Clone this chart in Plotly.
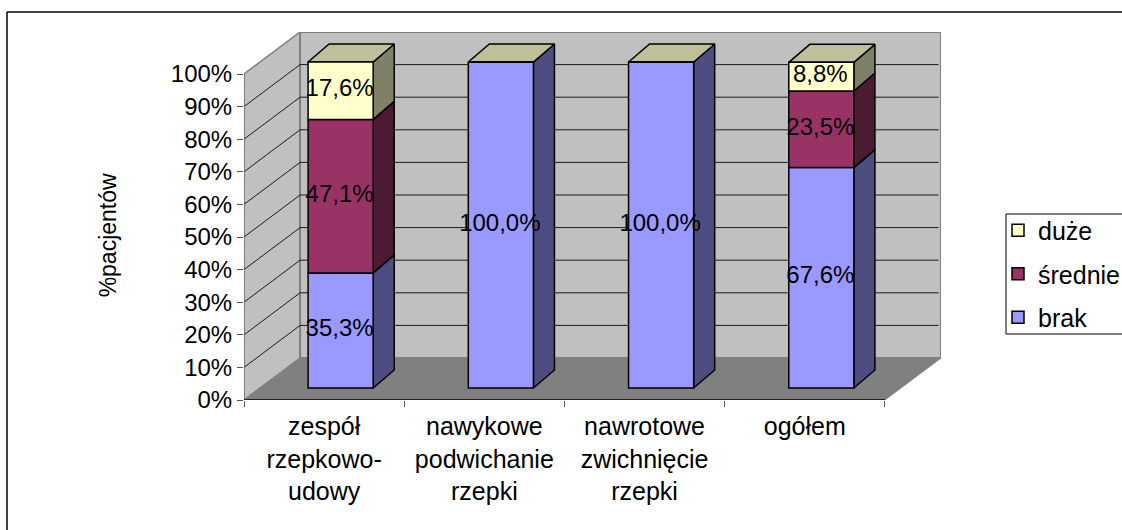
"""Stacked 3D-look column chart drawn with flat Plotly traces."""

import plotly.graph_objects as go

categories = ["zespół<br>rzepkowo-<br>udowy", "nawykowe<br>podwichanie<br>rzepki", "nawrotowe<br>zwichnięcie<br>rzepki", "ogółem"]
brak = [35.3, 100.0, 100.0, 67.6]
srednie = [47.1, 0.0, 0.0, 23.5]
duze = [17.6, 0.0, 0.0, 8.8]
y_ticks = [0, 10, 20, 30, 40, 50, 60, 70, 80, 90, 100]
y_tick_labels = ["0%", "10%", "20%", "30%", "40%", "50%", "60%", "70%", "80%", "90%", "100%"]

FONT = "Liberation Sans"
WIDTH, HEIGHT = 1122, 530
LEFT, RIGHT, TOP, BOTTOM = 244, 181, 32, 130
PX_X = 160  # pixels per category
PX_Y = 3.26  # pixels per percent

# oblique projection, in axis units
WALL_DX, WALL_DY = 56 / PX_X, 42 / PX_Y
BAR_SHIFT_DX, BAR_SHIFT_DY = 16.5 / PX_X, 12 / PX_Y
BAR_DX, BAR_DY = 21 / PX_X, 18 / PX_Y
BAR_WIDTH = 65 / PX_X
LABEL_DX, LABEL_DY = -1 / PX_X, 0.5 / PX_Y

X0, X1 = -0.5, len(categories) - 0.5
Y_MAX = y_ticks[-1]

series = [
    ("brak", brak, "#9999FF", "#4D4D80", 3),
    ("średnie", srednie, "#993366", "#4D1A33", 2),
    ("duże", duze, "#FFFFCC", "#808066", 1),
]
TOP_COLOR = "#BFBF99"


def polygon(xs, ys, fill, line_color, line_width=1.5, zorder=1):
    return go.Scatter(
        x=xs + xs[:1],
        y=ys + ys[:1],
        mode="lines",
        fill="toself",
        fillcolor=fill,
        line={"color": line_color, "width": line_width},
        hoverinfo="skip",
        showlegend=False,
        cliponaxis=False,
        zorder=zorder,
    )


def polyline(xs, ys, color, width=1.0, zorder=0):
    return go.Scatter(
        x=xs,
        y=ys,
        mode="lines",
        line={"color": color, "width": width},
        hoverinfo="skip",
        showlegend=False,
        cliponaxis=False,
        zorder=zorder,
    )


fig = go.Figure()

# walls and floor
back_x, back_top = X1 + WALL_DX, Y_MAX + WALL_DY
fig.add_trace(polygon([X0, X0 + WALL_DX, X0 + WALL_DX, X0], [0, WALL_DY, back_top, Y_MAX], "#C0C0C0", "#808080", 1.5, 0))
fig.add_trace(polygon([X0 + WALL_DX, back_x, back_x, X0 + WALL_DX], [WALL_DY, WALL_DY, back_top, back_top], "#C0C0C0", "#808080", 2, 0))
fig.add_trace(polygon([X0, X1, back_x, X0 + WALL_DX], [0, 0, WALL_DY, WALL_DY], "#808080", "#808080", 1, 0))

# gridlines along the side and back walls
grid_x, grid_y = [], []
for tick in y_ticks[1:-1]:
    grid_x += [X0, X0 + WALL_DX, back_x - 0.015, None]
    grid_y += [tick, tick + WALL_DY, tick + WALL_DY, None]
fig.add_trace(polyline(grid_x, grid_y, "#1a1a1a", 1.0))

# axis lines
fig.add_trace(polyline([X0, X0], [0, Y_MAX], "#666666", 1.0))
fig.add_trace(polyline([X0, X1], [0, 0], "#000000", 1.5))

# stacked columns: front faces are bars, side and top faces follow them in axis units
positions = [index + BAR_SHIFT_DX for index in range(len(categories))]
bottoms = [BAR_SHIFT_DY] * len(categories)
label_x, label_y, label_text = [], [], []
for name, values, front, side, rank in series:
    fig.add_trace(
        go.Bar(
            x=positions,
            y=values,
            base=bottoms,
            width=BAR_WIDTH,
            name=name,
            legendgroup=name,
            legendrank=rank,
            marker={"color": front, "line": {"color": "#000000", "width": 1.5}},
            hoverinfo="skip",
            zorder=2,
        )
    )
    for pos, base, value in zip(positions, bottoms, values):
        if not value:
            continue
        right = pos + BAR_WIDTH / 2
        fig.add_trace(
            polygon(
                [right, right + BAR_DX, right + BAR_DX, right],
                [base, base + BAR_DY, base + value + BAR_DY, base + value],
                side,
                "#000000",
            )
        )
        label_x.append(pos + LABEL_DX)
        label_y.append(base + value / 2 + LABEL_DY)
        label_text.append(f"{value:.1f}%".replace(".", ","))
    bottoms = [base + value for base, value in zip(bottoms, values)]

for pos, level in zip(positions, bottoms):
    left, right = pos - BAR_WIDTH / 2, pos + BAR_WIDTH / 2
    fig.add_trace(
        polygon(
            [left, right, right + BAR_DX, left + BAR_DX],
            [level, level, level + BAR_DY, level + BAR_DY],
            TOP_COLOR,
            "#000000",
        )
    )

fig.add_trace(
    go.Scatter(
        x=label_x,
        y=label_y,
        mode="text",
        text=label_text,
        textposition="middle center",
        textfont={"family": FONT, "size": 24, "color": "#000000"},
        hoverinfo="skip",
        showlegend=False,
        cliponaxis=False,
        zorder=3,
    )
)

fig.update_xaxes(
    range=[X0, back_x],
    tickvals=list(range(len(categories))),
    ticktext=categories,
    ticks="",
    ticklabelstandoff=9,
    tickfont={"family": FONT, "size": 25, "color": "#000000"},
    minor={
        "tickvals": [X0 + index for index in range(len(categories) + 1)],
        "ticks": "outside",
        "ticklen": 6,
        "tickcolor": "#555555",
        "tickwidth": 1,
    },
    showgrid=False,
    showline=False,
    zeroline=False,
    automargin=False,
)
fig.update_yaxes(
    range=[0, back_top],
    tickvals=y_ticks,
    ticktext=y_tick_labels,
    ticks="outside",
    ticklen=6,
    tickcolor="#555555",
    tickwidth=1,
    tickfont={"family": FONT, "size": 24, "color": "#000000"},
    showgrid=False,
    showline=False,
    zeroline=False,
    automargin=False,
)

fig.update_layout(
    width=WIDTH,
    height=HEIGHT,
    margin={"l": LEFT, "r": RIGHT, "t": TOP, "b": BOTTOM, "pad": 0},
    paper_bgcolor="#FFFFFF",
    plot_bgcolor="#FFFFFF",
    barmode="overlay",
    font={"family": FONT, "color": "#000000"},
    legend={
        "x": 998 / WIDTH,
        "xref": "container",
        "y": 1 - 274 / HEIGHT,
        "yref": "container",
        "xanchor": "left",
        "yanchor": "middle",
        "traceorder": "grouped",
        "tracegroupgap": 8,
        "bgcolor": "rgba(0,0,0,0)",
        "font": {"family": FONT, "size": 25, "color": "#000000"},
    },
    annotations=[
        {
            "text": "%pacjentów",
            "xref": "paper",
            "yref": "y",
            "x": 0,
            "y": 50.5,
            "xshift": -151,
            "showarrow": False,
            "textangle": -90,
            "font": {"family": FONT, "size": 23, "color": "#000000"},
        }
    ],
    shapes=[
        # chart frame, only its top and left edges fall inside the picture
        {"type": "line", "xref": "paper", "yref": "paper", "x0": -237 / 697, "x1": 1.3, "y0": 1 + 20 / 368, "y1": 1 + 20 / 368, "line": {"color": "#000000", "width": 1.5}},
        {"type": "line", "xref": "paper", "yref": "paper", "x0": -237 / 697, "x1": -237 / 697, "y0": 1 + 20 / 368, "y1": -0.5, "line": {"color": "#000000", "width": 1.5}},
        # legend box
        {"type": "rect", "xref": "paper", "yref": "paper", "x0": (1006 - 244) / 697, "x1": 1.3, "y0": (400 - 214) / 368, "y1": (400 - 334) / 368, "line": {"color": "#000000", "width": 1}, "layer": "below"},
    ],
)

fig.write_html("out.html", config={"displayModeBar": False}, post_script="document.body.style.margin = '0';")
